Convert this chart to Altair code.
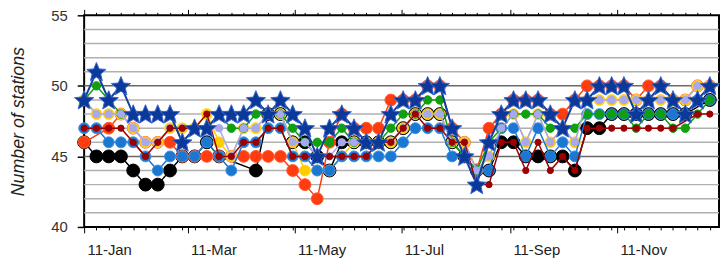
import math
import altair as alt
import pandas as pd

# ---------------- data ----------------
week = list(range(52))

stars = [49, 51, 49, 50, 48, 48, 48, 48, 46, 47, 47, 48, 48, 48, 49, 48, 49, 48, 47, 45,
         47, 48, 47, 46, 46, 48, 49, 49, 50, 50, 47, 45, 43, 46, 48, 49, 49, 49, 48, 47,
         49, 49, 50, 50, 50, 48, 49, 50, 49, 48, 49, 50]
black = [46, 45, 45, 45, 44, 43, 43, 44, 45, 45, 46, 45, None, None, 44, 48, 48, 46, 46, 45,
         44, 46, 46, 46, 46, 46, 47, 48, 48, 48, 46, 45, 44, 44, 46, 46, 45, 45, 45, 45,
         44, 47, 47, 48, 48, 48, 48, 48, 48, 48, None, 49]
orange = [46, None, 47, 48, 47, 46, 46, 46, 45, 45, 45, 45, 45, 45, 45, 45, 45, 44, 43, 42,
          46, 48, 47, 47, 47, 49, 49, 49, 50, 50, 47, 46, 44, 47, 48, 49, 49, 49, 48, 48,
          49, 50, 50, 50, 50, 49, 50, 50, 49, 49, 50, 50]
yellow = [49, 48, 48, 48, 47, 46, 46, 47, 47, 47, 48, 46, 45, 47, 47, 48, 48, 46, 44, 44,
          44, 45, 46, 46, 46, 46, 47, 48, 48, 48, 46, 46, 44, 45, 47, 48, 46, 48, 46, 47,
          46, 49, 49, 49, 49, 49, 49, 49, 49, 49, 50, 50]
blue = [47, 47, 46, 46, 46, 45, 44, 45, 45, 45, 46, 45, 44, 46, 46, 47, 47, 45, 45, 44,
        44, 45, 45, 45, 45, 45, 46, 47, 47, 47, 45, 45, 44, 44, 47, 47, 45, 47, 45, 46,
        45, 48, 48, 48, 48, 48, 48, 48, 48, 48, 49, 49]
green = [49, 50, 49, 48, 48, 48, 48, 48, 46, 47, 47, 48, 47, 47, 48, 48, 48, 47, 46, 46,
         46, 47, 46, 46, 46, 47, 48, 48, 49, 49, 46, 45, 44, 46, 47, 48, 48, 48, 47, 47,
         47, 48, 48, 48, 48, 47, 48, 48, 47, 47, 48, 49]
lavender = [49, 48, 48, 48, 47, 46, 46, 47, 47, 47, 47, 47, 45, 47, 47, 48, 48, 46, 46, 45,
            45, 46, 46, 46, 46, 46, 47, 48, 48, 48, 46, 46, 44, 45, 47, 48, 46, 48, 46, 47,
            46, 49, 49, 49, 49, 49, 49, 49, 49, 49, 50, 50]
darkred = [47, 47, 47, 47, 46, 45, 46, 47, 47, 47, 48, 45, 45, 46, 46, 47, 47, 45, 45, 45,
           45, 45, 45, 45, 46, 46, 47, 48, 47, 47, 46, 46, 43, 43, 46, 46, 44, 46, 44, 45,
           44, 47, 47, 47, 47, 47, 47, 47, 47, None, 48, 48]

MAJOR_DAYS = [0, 59, 120, 181, 243, 304]
MAJOR_LABELS = ["11-Jan", "11-Mar", "11-May", "11-Jul", "11-Sep", "11-Nov"]
grid_minor = [41, 42, 43, 44, 46, 47, 48, 49, 51, 52, 53, 54]
grid_major = [45, 50]
y_ticks = [40, 45, 50, 55]

# ---------------- marker shape: five-pointed star in [-1, 1] ----------------
pts = []
for k in range(10):
    r = 1.0 if k % 2 == 0 else 0.45
    a = -math.pi / 2 + k * math.pi / 5
    pts.append((r * math.cos(a), r * math.sin(a) + 0.08))
STAR = "M" + "L".join(f"{px:.3f},{py:.3f}" for px, py in pts) + "Z"

# ---------------- styles ----------------
# name, values, line colour, fill, stroke, size, shape, line width
SERIES = [
    ("black", black, "#000000", "#000000", "#000000", 169, "circle", 1.5),
    ("orange", orange, "#ff3c10", "#ff3c10", "#ff5a30", 144, "circle", 1.5),
    ("yellow", yellow, "#ffcc00", "#ffcc00", "#ffd633", 121, "circle", 1.5),
    ("blue", blue, "#1a78d2", "#1a78d2", "#3f8fe0", 121, "circle", 1.5),
    ("green", green, "#0f9f0f", "#0f9f0f", "#0f9f0f", 72, "circle", 1.5),
    ("lavender", lavender, "#a8a8f0", "#a8a8f0", "#a8a8f0", 56, "circle", 1.5),
    ("darkred", darkred, "#9c0000", "#9c0000", "#9c0000", 40, "circle", 1.5),
    ("stars", stars, "#123f9e", "#0b399a", "#3a66cc", 420, STAR, 2),
]

for s in SERIES:
    assert len(s[1]) == 52, s[0]

W, H = 642, 214
x_scale = alt.Scale(domain=[0, 51.75], nice=False, zero=False)
y_scale = alt.Scale(domain=[40, 55], nice=False, zero=False)

tick_vals = [d / 7 for d in MAJOR_DAYS] + list(range(1, 52))
major_test = "datum.value == 0 || round(datum.value*7) % 7 != 0"
label_expr = "''"
for d, lab in reversed(list(zip(MAJOR_DAYS, MAJOR_LABELS))):
    label_expr = f"round(datum.value*7) == {d} ? '{lab}' : ({label_expr})"

tick_size = {"condition": {"test": major_test, "value": 6}, "value": 3}

x_axis = alt.Axis(orient="bottom", values=tick_vals, labelExpr=label_expr, labelAlign="left",
                  labelOffset=3, labelFlush=False, labelOverlap=False,
                  tickSize=tick_size, tickColor="black", tickWidth=1,
                  domain=False, grid=False, title=None, labelFontSize=15,
                  labelPadding=10, labelColor="#222")
top_axis = alt.Axis(orient="top", values=tick_vals, labels=False, tickSize=tick_size,
                    tickColor="black", tickWidth=1, domain=False, grid=False, title=None)
y_axis = alt.Axis(orient="left", values=y_ticks, tickSize=7, tickColor="black", tickWidth=1.5,
                  domain=False, grid=False, labelFontSize=15, labelPadding=10,
                  labelColor="#333", title="Number of stations", titleFontSize=18,
                  titleFontStyle="italic", titleFontWeight="normal",
                  titleX=-66, titleY=H / 2, titleAngle=-90, titleAlign="center",
                  titleBaseline="middle", titleColor="#222")

X = alt.X("week:Q", scale=x_scale, axis=x_axis)
Y = alt.Y("v:Q", scale=y_scale, axis=y_axis)

layers = []
layers.append(alt.Chart(pd.DataFrame({"v": grid_minor})).mark_rule(
    color="#b0b0b0", strokeWidth=1.5).encode(y=Y))
layers.append(alt.Chart(pd.DataFrame({"v": grid_major})).mark_rule(
    color="#6a6a6a", strokeWidth=1.5).encode(y=Y))

for name, vals, lc, fill, stroke, size, shape, lw in SERIES:
    df = pd.DataFrame({"week": week, "v": vals}).dropna()
    base = alt.Chart(df).encode(x=X, y=Y)
    layers.append(base.mark_line(color=lc, strokeWidth=lw))
    layers.append(base.mark_point(filled=True, shape=shape, size=size, fill=fill,
                                  stroke=stroke, strokeWidth=1, opacity=1))

main = alt.layer(*layers)
top = alt.Chart(pd.DataFrame({"t": tick_vals})).mark_rule(opacity=0).encode(
    x=alt.X("t:Q", scale=x_scale, axis=top_axis))

chart = alt.layer(main, top).resolve_scale(x="independent").properties(
    width=W, height=H,
    padding={"left": 77, "top": 6, "right": 1, "bottom": 30},
    autosize=alt.AutoSizeParams(type="none"),
).configure_view(stroke="black", strokeWidth=2).configure_axis(
    labelFont="Liberation Sans", titleFont="Liberation Sans")

chart.save("out.html", embed_options={"renderer": "svg", "actions": False})
